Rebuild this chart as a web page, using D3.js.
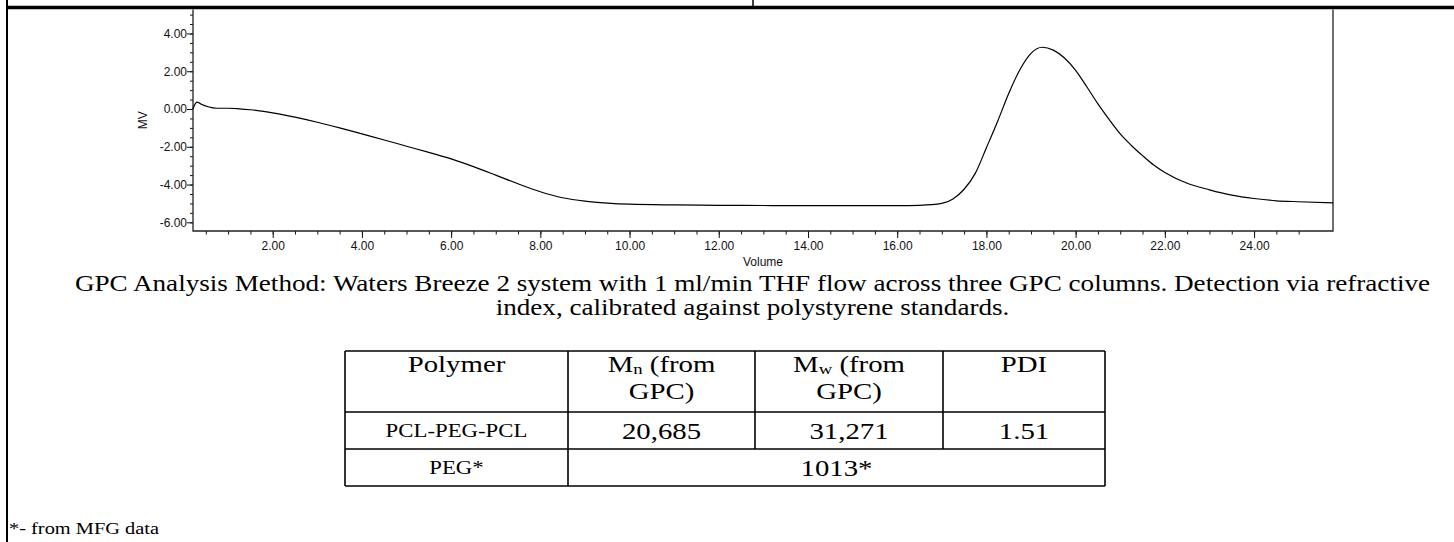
<!DOCTYPE html>
<html>
<head>
<meta charset="utf-8">
<script src="https://cdn.jsdelivr.net/npm/d3@7"></script>
<style>
html, body { margin: 0; padding: 0; background: #fff; overflow: hidden; }
svg { display: block; }
</style>
</head>
<body>
<svg id="page" width="1454" height="542"></svg>
<script>
// GPC trace, values (Volume vs MV)
var volume = [0.21, 0.30, 0.40, 0.55, 0.75, 1.0, 1.25, 1.5, 1.75, 2.0, 2.5, 3.0, 3.5, 4.0, 4.5,
  5.0, 5.5, 6.0, 6.5, 7.0, 7.5, 8.0, 8.5, 9.0, 9.5, 10, 11, 12, 13, 14, 15, 16, 16.5,
  17.0, 17.25, 17.5, 17.75, 18.0, 18.25, 18.5, 18.75, 19.0, 19.25, 19.5, 19.75, 20.0,
  20.25, 20.5, 20.75, 21.0, 21.25, 21.5, 21.75, 22.0, 22.5, 23.0, 23.5, 24.0, 24.5, 25.0, 25.77];
var signal = [0.0, 0.37, 0.25, 0.12, 0.04, 0.04, 0.01, -0.04, -0.11, -0.20, -0.43, -0.70, -1.00, -1.32, -1.64,
  -1.97, -2.30, -2.64, -3.05, -3.50, -3.96, -4.38, -4.70, -4.88, -4.98, -5.04, -5.08, -5.10, -5.11, -5.12, -5.12, -5.12, -5.10,
  -5.0, -4.76, -4.25, -3.41, -2.05, -0.66, 0.82, 2.08, 2.95, 3.27, 3.12, 2.70, 2.05,
  1.18, 0.27, -0.55, -1.32, -1.93, -2.47, -2.97, -3.36, -3.93, -4.28, -4.56, -4.74, -4.86, -4.91, -4.97];

var yMajorTicks = [-6, -4, -2, 0, 2, 4];
var xMajorTicks = [2, 4, 6, 8, 10, 12, 14, 16, 18, 20, 22, 24];
var xLabel = "Volume";
var yLabel = "MV";

var captionLines = [
  "GPC Analysis Method: Waters Breeze 2 system with 1 ml/min THF flow across three GPC columns. Detection via refractive",
  "index, calibrated against polystyrene standards."
];

var tableHead = ["Polymer", "M|n| (from|GPC)", "M|w| (from|GPC)", "PDI"];
var copolymerRow = ["PCL-PEG-PCL", "20,685", "31,271", "1.51"];
var pegRow = ["PEG*", "1013*"];
var footnote = "*- from MFG data";

var svg = d3.select("#page");
var serif = "'Liberation Serif', 'Times New Roman', serif";
var sx = 1.2;   // the document text is a little wider than tall in the picture

// text helper: glyphs widened by sx around the anchor point
function wideText(g, px, py, str, size, anchor) {
  return g.append("text")
    .attr("transform", "translate(" + px + "," + py + ") scale(" + sx + ",1)")
    .attr("text-anchor", anchor || "middle")
    .style("font-size", size + "px")
    .text(str);
}

// page frame (cell borders of the document table)
svg.append("line").attr("x1", 7).attr("x2", 7).attr("y1", 0).attr("y2", 542)
  .style("stroke", "#000").style("stroke-width", 2);
svg.append("line").attr("x1", 753).attr("x2", 753).attr("y1", 0).attr("y2", 7)
  .style("stroke", "#000").style("stroke-width", 1.5);
svg.append("line").attr("x1", 6).attr("x2", 1454).attr("y1", 7.5).attr("y2", 7.5)
  .style("stroke", "#000").style("stroke-width", 3.6);

// ---- chromatogram ----
var plotL = 193, plotR = 1333, plotT = 9.5, plotB = 231;

var x = d3.scaleLinear().domain([0.213, 25.77]).range([plotL, plotR]);
var y = d3.scaleLinear().domain([-6.46, 5.27]).range([plotB, plotT]);

var fmt = function(d) { return d.toFixed(2); };
var plot = svg.append("g").style("font-family", "'Liberation Sans', Arial, sans-serif");

// minor ticks
plot.append("g").attr("transform", "translate(0," + plotB + ")")
  .call(d3.axisBottom(x).tickValues(d3.range(0.5, 25.01, 0.5)).tickSize(3.5).tickSizeOuter(0).tickFormat(""))
  .call(function(g) { g.select(".domain").remove(); });
plot.append("g").attr("transform", "translate(" + plotL + ",0)")
  .call(d3.axisLeft(y).tickValues(d3.range(-6, 5.01, 0.5)).tickSize(3).tickSizeOuter(0).tickFormat(""))
  .call(function(g) { g.select(".domain").remove(); });

// major ticks + labels
var xAxis = plot.append("g").attr("transform", "translate(0," + plotB + ")")
  .call(d3.axisBottom(x).tickValues(xMajorTicks).tickSize(7).tickPadding(3.5).tickSizeOuter(0)
    .tickFormat(fmt));
xAxis.select(".domain").remove();
var yAxis = plot.append("g").attr("transform", "translate(" + plotL + ",0)")
  .call(d3.axisLeft(y).tickValues(yMajorTicks).tickSize(6).tickPadding(0).tickSizeOuter(0)
    .tickFormat(fmt));
yAxis.select(".domain").remove();

plot.selectAll(".tick line").style("stroke", "#111").style("stroke-width", 1);
plot.selectAll(".tick text").style("font-size", "12px").style("fill", "#111")
  .style("font-family", "'Liberation Sans', Arial, sans-serif");

// frame of the plot
plot.append("path")
  .attr("d", "M" + plotL + "," + plotT + "V" + plotB + "H" + plotR + "V" + plotT)
  .style("fill", "none").style("stroke", "#222").style("stroke-width", 1.3);

plot.append("text").attr("x", (plotL + plotR) / 2).attr("y", 266)
  .attr("text-anchor", "middle").style("font-size", "12px").style("fill", "#111")
  .text(xLabel);
plot.append("text").attr("transform", "translate(147," + ((plotT + plotB) / 2) + ") rotate(-90)")
  .attr("text-anchor", "middle").style("font-size", "12px").style("fill", "#111")
  .text(yLabel);

var trace = volume.map(function(v, i) { return [v, signal[i]]; });
plot.append("path").datum(trace)
  .attr("d", d3.line().x(function(d) { return x(d[0]); }).y(function(d) { return y(d[1]); })
    .curve(d3.curveMonotoneX))
  .style("fill", "none").style("stroke", "#000").style("stroke-width", 1.2);

// ---- caption, centred paragraph ----
var cap = svg.append("g").style("font-family", serif).style("fill", "#000");
var c1 = wideText(cap, 752.5, 291, captionLines[0], 22);
// fit the long line to the span it covers in the picture (x 75..1430)
var capSize = 22 * 1355 / (c1.node().getComputedTextLength() * sx);
c1.style("font-size", capSize + "px");
wideText(cap, 752.5, 315, captionLines[1], capSize);

// ---- results table ----
var colX = [345, 568, 755, 943, 1105];
var rowY = [351, 412, 449, 486];
var big = 24, small = 19;
var tbl = svg.append("g").style("font-family", serif).style("fill", "#000");

rowY.forEach(function(yy) {
  tbl.append("line").attr("x1", colX[0]).attr("x2", colX[4]).attr("y1", yy).attr("y2", yy)
    .style("stroke", "#000").style("stroke-width", 1.6);
});
colX.forEach(function(xx, i) {
  var bottom = (i === 2 || i === 3) ? rowY[2] : rowY[3];
  tbl.append("line").attr("x1", xx).attr("x2", xx).attr("y1", rowY[0]).attr("y2", bottom)
    .style("stroke", "#000").style("stroke-width", 1.6);
});

function mid(i) { return (colX[i] + colX[i + 1]) / 2; }

tableHead.forEach(function(h, i) {
  var parts = h.split("|");
  if (parts.length === 1) {
    wideText(tbl, mid(i), 372, h, big);
  } else {
    var t = wideText(tbl, mid(i), 372, "", big);
    t.append("tspan").text(parts[0]);
    t.append("tspan").attr("dy", 2).style("font-size", (big * 0.65) + "px").text(parts[1]);
    t.append("tspan").attr("dy", -2).text(parts[2]);
    wideText(tbl, mid(i), 399, parts[3], big);
  }
});

copolymerRow.forEach(function(v, i) {
  wideText(tbl, mid(i), i === 0 ? 437 : 439, v, i === 0 ? small : big);
});
wideText(tbl, mid(0), 474, pegRow[0], small);
wideText(tbl, (colX[1] + colX[4]) / 2, 476, pegRow[1], big);

wideText(svg.append("g").style("font-family", serif), 9, 534, footnote, 17, "start");
</script>
</body>
</html>
